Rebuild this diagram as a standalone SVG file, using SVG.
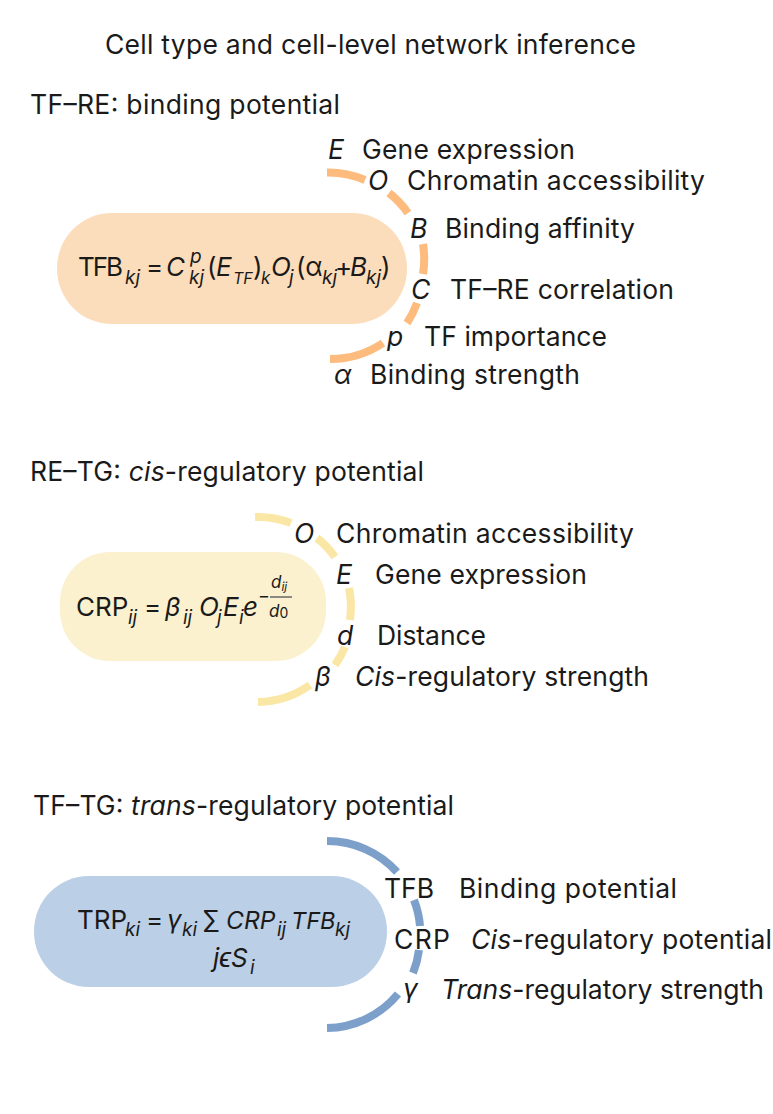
<svg xmlns="http://www.w3.org/2000/svg" width="773" height="1114" viewBox="0 0 773 1114">
<style>
text{font-family:"Inter","Noto Sans",sans-serif;font-size:26.500px;fill:#1a1a1a}
.f{font-size:26px}
.i{font-style:italic}
.s{font-size:19px;font-style:italic}
.t{font-size:17px;font-style:italic}
.a{fill:none;stroke-width:8}
.o{stroke:#FDBB7E}.y{stroke:#FBE7A5}.b{stroke:#7DA0CB}
</style>
<rect width="773" height="1114" fill="#fff"/>
<g id="titles">
<text x="105" y="54" textLength="531">Cell type and cell-level network inference</text>
<text x="30" y="114" textLength="310">TF–RE: binding potential</text>
<text x="30" y="481" textLength="394">RE–TG: <tspan class="i">cis</tspan>-regulatory potential</text>
<text x="33" y="815" textLength="421">TF–TG: <tspan class="i">trans</tspan>-regulatory potential</text>
</g>
<g id="connectors">
<path class="a o" d="M327 172.500A94 94 0 0 1 365 180M389 193A94 94 0 0 1 408 213M423 244A94 94 0 0 1 423 274M417 303A94 94 0 0 1 407 323M383 343A94 94 0 0 1 330 359"/>
<path class="a y" d="M255 517A93 93 0 0 1 291 523M317 538A93 93 0 0 1 335 557M349 588A93 93 0 0 1 350 620M345 647A93 93 0 0 1 335 665M310 685A93 93 0 0 1 258 702"/>
<path class="a b" d="M327 841A94 94 0 0 1 397 872M414 900A94 94 0 0 1 420 926M419 950A94 94 0 0 1 413 973M398 994A94 94 0 0 1 327 1028"/>
</g>
<g id="node-tfb">
<rect x="57" y="213" width="350" height="111" rx="55" fill="#FCDDBB"/>
<text class="f" x="78" y="276" textLength="45">TFB</text><text class="s" x="125" y="284">kj</text>
<text class="f" x="146" y="276">=</text>
<text class="f i" x="166" y="276">C</text>
<text class="s" x="190" y="263">p</text><text class="s" x="189" y="284">kj</text>
<text class="f" x="207" y="276">(</text><text class="f i" x="216" y="276">E</text><text class="s" x="233" y="284" style="font-size:16px">TF</text><text class="f" x="253" y="276">)</text><text class="s" x="261" y="284" style="font-size:17px">k</text>
<text class="f i" x="271" y="276">O</text><text class="s" x="289" y="284">j</text>
<text class="f" x="296" y="276">(α</text><text class="s" x="322" y="284">kj</text><text class="f" x="335" y="276">+</text><text class="f i" x="350" y="276">B</text><text class="s" x="366" y="284">kj</text><text class="f" x="381" y="276">)</text>
</g>
<g id="labels-tfb">
<text class="i" x="328" y="159">E</text><text x="362" y="159" textLength="213">Gene expression</text>
<text class="i" x="368" y="189.500">O</text><text x="407" y="189.500" textLength="298">Chromatin accessibility</text>
<text class="i" x="410" y="238">B</text><text x="445" y="238" textLength="190">Binding affinity</text>
<text class="i" x="411" y="298.500">C</text><text x="450" y="298.500" textLength="224">TF–RE correlation</text>
<text class="i" x="387" y="345.500">p</text><text x="424" y="345.500" textLength="183">TF importance</text>
<text class="i" x="334" y="383.500">α</text><text x="370" y="383.500" textLength="210">Binding strength</text>
</g>
<g id="node-crp">
<rect x="60" y="552" width="266" height="109" rx="50" fill="#FBF1CF"/>
<text class="f" x="76" y="616">CRP</text><text class="s" x="128" y="624">ij</text>
<text class="f" x="144" y="616">=</text>
<text class="f i" x="165" y="616">β</text><text class="s" x="183" y="624">ij</text>
<text class="f i" x="199" y="616">O</text><text class="s" x="217" y="624">j</text>
<text class="f i" x="223" y="616">E</text><text class="s" x="239" y="624">i</text>
<text class="f i" x="243" y="616">e</text>
<text x="258" y="602" style="font-size:18px">−</text>
<text class="t" x="271" y="588">d<tspan dy="3" style="font-size:12px">ij</tspan></text>
<path d="M270 597H292" stroke="#666" stroke-width="1.500" fill="none"/>
<text class="t" x="269" y="617">d<tspan dy="1" style="font-size:14px;font-style:normal">0</tspan></text>
</g>
<g id="labels-crp">
<text class="i" x="294" y="543">O</text><text x="336" y="543" textLength="298">Chromatin accessibility</text>
<text class="i" x="336" y="584">E</text><text x="375" y="584" textLength="212">Gene expression</text>
<text class="i" x="337" y="645">d</text><text x="377" y="645" textLength="109">Distance</text>
<text class="i" x="315" y="686">β</text><text x="355" y="686" textLength="294"><tspan class="i">Cis</tspan>-regulatory strength</text>
</g>
<g id="node-trp">
<rect x="34" y="876" width="353" height="111" rx="55" fill="#BBCFE6"/>
<text class="f" x="77" y="928.500">TRP</text><text class="s" x="125" y="936">ki</text>
<text class="f" x="146" y="928.500">=</text>
<text class="f i" x="167" y="928.500">γ</text><text class="s" x="182" y="936">ki</text>
<text class="f" x="203" y="928.500">∑</text>
<text class="i" x="226" y="928.500" style="font-size:24.500px">CRP</text><text class="s" x="277" y="936">ij</text>
<text class="i" x="291" y="928.500" style="font-size:23.500px">TFB</text><text class="s" x="335" y="936">kj</text>
<text class="f i" x="213" y="967">jϵS</text><text class="s" x="250" y="974">i</text>
</g>
<g id="labels-trp">
<text x="384" y="897.500" textLength="50">TFB</text><text x="459" y="897.500" textLength="218">Binding potential</text>
<text x="394" y="948.500" textLength="56">CRP</text><text x="471" y="948.500" textLength="301"><tspan class="i">Cis</tspan>-regulatory potential</text>
<text class="i" x="403" y="998">γ</text><text x="441" y="999" textLength="323"><tspan class="i">Trans</tspan>-regulatory strength</text>
</g>
</svg>
